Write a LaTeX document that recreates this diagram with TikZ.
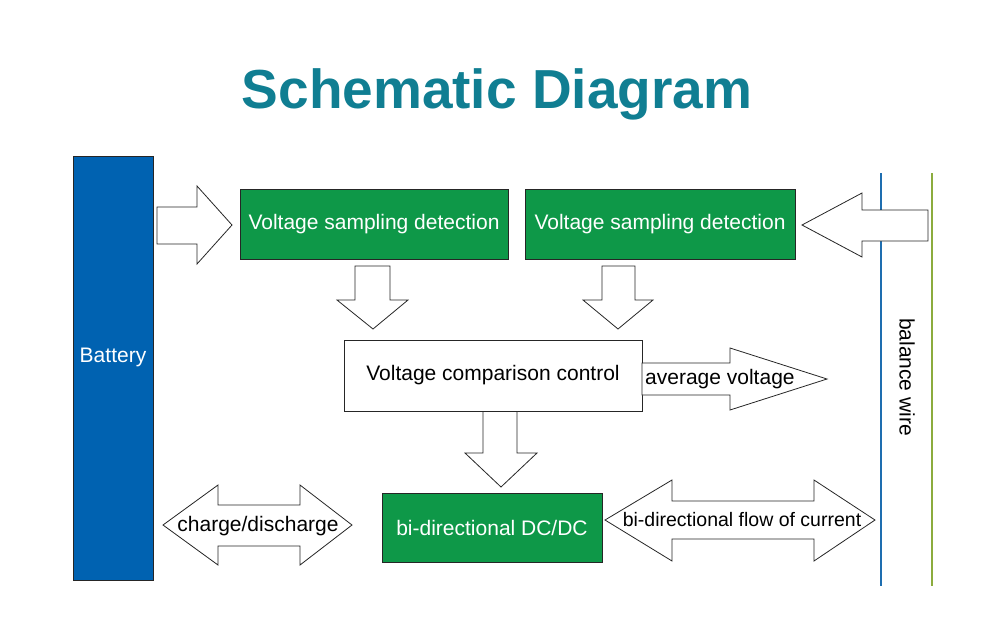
\documentclass[tikz,border=0pt]{standalone}
\usepackage{fontspec}
\setmainfont{Liberation Sans}
\definecolor{titleteal}{RGB}{16,126,146}
\definecolor{batblue}{RGB}{0,98,177}
\definecolor{boxgreen}{RGB}{14,152,72}
\definecolor{wireblue}{RGB}{30,110,176}
\definecolor{wiregreen}{RGB}{140,172,62}
\tikzset{
  greenbox/.style={draw=black!85, line width=0.8pt, fill=boxgreen, text=white, minimum height=70pt, inner sep=0pt, font=\fontsize{21}{24}\selectfont},
  whitebox/.style={draw=black!85, line width=0.8pt, fill=white, minimum height=71pt, inner sep=0pt, font=\fontsize{21}{24}\selectfont},
  blockarrow/.style={draw=black!85, fill=white, line width=0.8pt, line join=miter},
  lbl/.style={inner sep=0pt, font=\fontsize{21}{24}\selectfont},
  wire/.style={line width=1.4pt},
}
\begin{document}
\begin{tikzpicture}[x=1pt,y=-1pt]
\useasboundingbox (0,0) rectangle (1000,635);
% title
\node[anchor=base, text=titleteal, font=\fontsize{55}{60}\selectfont\bfseries] (title) at (497,108) {Schematic Diagram};
% battery
\node[draw=black!85, line width=0.8pt, fill=batblue, minimum width=80pt, minimum height=424pt, inner sep=0pt] (bat) at (113,368) {};
\node[lbl, text=white] (battxt) at (113,357) {Battery};
% balance wire
\coordinate (bwtop) at (881,173);
\coordinate (bwbot) at (881,586);
\coordinate (gwtop) at (932,173);
\coordinate (gwbot) at (932,586);
\draw[wire, wireblue] (bwtop) -- (bwbot);
\draw[wire, wiregreen] (gwtop) -- (gwbot);
\node[lbl, rotate=-90] (bwtxt) at (907,377) {balance wire};
% boxes
\node[greenbox, minimum width=268pt] (vs1) at (374,224) {\raisebox{-1.5pt}{Voltage sampling detection}};
\node[greenbox, minimum width=270pt] (vs2) at (660,224) {\raisebox{-1.5pt}{Voltage sampling detection}};
\node[whitebox, minimum width=298pt] (vcc) at (493,375.5) {Voltage comparison control};
\node[greenbox, minimum width=220pt, minimum height=69pt] (dcdc) at (492,527.5) {bi-directional DC/DC};
% arrow battery -> vs1
\draw[blockarrow] (157,207) -- (197,207) -- (197,186) -- (232,225) -- (197,264) -- (197,244) -- (157,244) -- cycle;
% arrow balance -> vs2
\draw[blockarrow] (928,210) -- (862,210) -- (862,193) -- (802,225) -- (862,257) -- (862,241) -- (928,241) -- cycle;
% down arrows vs1, vs2 -> vcc
\draw[blockarrow] (355,266) -- (390,266) -- (390,300) -- (408,300) -- (373,329) -- (337,300) -- (355,300) -- cycle;
\draw[blockarrow] (602,266) -- (635,266) -- (635,300) -- (653,300) -- (618,329) -- (583,300) -- (602,300) -- cycle;
% average voltage arrow
\draw[blockarrow] (642,363) -- (730,363) -- (730,348) -- (827,379) -- (730,410) -- (730,395) -- (642,395) -- cycle;
\node[lbl, anchor=west] (avtxt) at (645,379) {average voltage};
% down arrow vcc -> dcdc
\draw[blockarrow] (483,411.5) -- (517,411.5) -- (517,453) -- (537,453) -- (501,487) -- (465,453) -- (483,453) -- cycle;
% charge/discharge
\draw[blockarrow] (163,525) -- (218,485) -- (218,505) -- (300,505) -- (300,485) -- (352,525) -- (300,565) -- (300,546) -- (218,546) -- (218,565) -- cycle;
\node[lbl] (cdtxt) at (258,526) {charge/discharge};
% bi-directional flow
\draw[blockarrow] (605,520) -- (672,480) -- (672,501) -- (814,501) -- (814,480) -- (875,520) -- (814,561) -- (814,539) -- (672,539) -- (672,561) -- cycle;
\node[lbl, font=\fontsize{19.5}{23}\selectfont] (bftxt) at (742,520) {bi-directional flow of current};
\end{tikzpicture}
\end{document}
